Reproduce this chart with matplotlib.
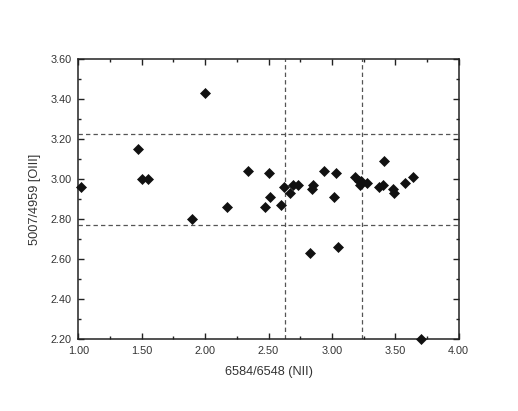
import matplotlib
matplotlib.use("Agg")
import matplotlib.pyplot as plt
from matplotlib.ticker import MultipleLocator, FormatStrFormatter

plt.rcParams['font.family'] = ['Liberation Sans', 'DejaVu Sans']

nii = [1.02, 1.47, 1.50, 1.55, 1.90, 2.00,
       2.17, 2.34, 2.47, 2.50, 2.51, 2.60, 2.62, 2.67, 2.69, 2.73,
       2.83, 2.84, 2.85, 2.94, 3.02, 3.03, 3.05,
       3.18, 3.21, 3.22, 3.23, 3.28, 3.37, 3.40, 3.41, 3.48, 3.49,
       3.58, 3.64, 3.70]
oiii = [2.96, 3.15, 3.00, 3.00, 2.80, 3.43,
        2.86, 3.04, 2.86, 3.03, 2.91, 2.87, 2.96, 2.93, 2.97, 2.97,
        2.63, 2.95, 2.97, 3.04, 2.91, 3.03, 2.66,
        3.01, 2.99, 2.97, 2.99, 2.98, 2.96, 2.97, 3.09, 2.95, 2.93,
        2.98, 3.01, 2.20]

vlines = [2.63, 3.24]
hlines = [3.225, 2.77]

fig = plt.figure(figsize=(5.18, 4.11), dpi=100)
ax = fig.add_axes([0.1512, 0.174, 0.7343, 0.6824])

for v in vlines:
    ax.axvline(v, color='#555555', lw=0.9, ls=(0, (3.5, 2.5)), zorder=1)
for h in hlines:
    ax.axhline(h, color='#555555', lw=0.9, ls=(0, (3.5, 2.5)), zorder=1)

ax.plot(nii, oiii, ls='none', marker='D', ms=4.8, color='#111111',
        mec='#111111', mew=0.5, zorder=3, clip_on=False)

ax.set_xlim(1.0, 4.0)
ax.set_ylim(2.2, 3.6)
ax.xaxis.set_major_locator(MultipleLocator(0.5))
ax.xaxis.set_minor_locator(MultipleLocator(0.25))
ax.yaxis.set_major_locator(MultipleLocator(0.2))
ax.yaxis.set_minor_locator(MultipleLocator(0.1))
ax.xaxis.set_major_formatter(FormatStrFormatter('%.2f'))
ax.yaxis.set_major_formatter(FormatStrFormatter('%.2f'))

ax.tick_params(which='both', direction='in', top=True, right=True,
               width=1.0, color='#222222', labelsize=7.8, labelcolor='#333333')
ax.tick_params(which='major', length=4.5, pad=5)
ax.tick_params(which='minor', length=2.5)
for s in ax.spines.values():
    s.set_linewidth(1.1)
    s.set_color('#222222')

ax.set_xlabel('6584/6548 (NII)', fontsize=9.2, color='#333333', labelpad=7)
ax.set_ylabel('5007/4959 [OIII]', fontsize=9.2, color='#333333', labelpad=7)

fig.savefig('out.png', dpi=100)
